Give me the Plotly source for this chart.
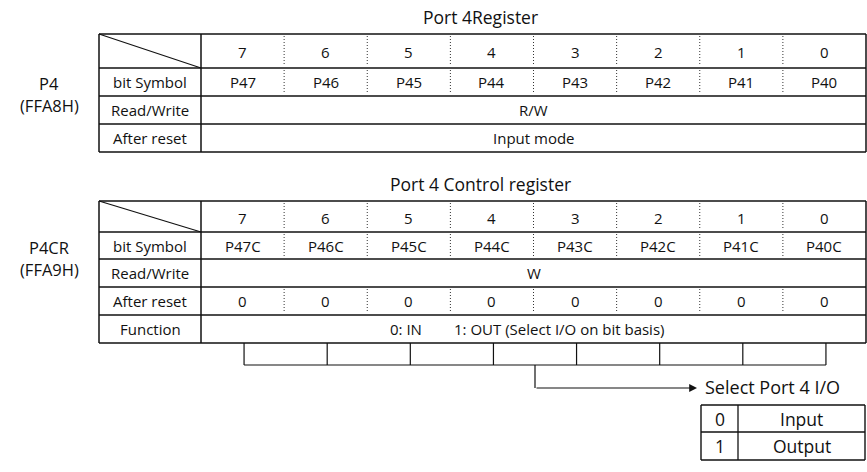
import plotly.graph_objects as go

# ---------------- data ----------------
bits = ["7", "6", "5", "4", "3", "2", "1", "0"]
p4_symbols = ["P47", "P46", "P45", "P44", "P43", "P42", "P41", "P40"]
p4cr_symbols = ["P47C", "P46C", "P45C", "P44C", "P43C", "P42C", "P41C", "P40C"]
p4cr_reset = ["0", "0", "0", "0", "0", "0", "0", "0"]
p4_title = "Port 4Register"
p4cr_title = "Port 4 Control register"
p4_name = ["P4", "(FFA8H)"]
p4cr_name = ["P4CR", "(FFA9H)"]
p4_row_labels = ["bit Symbol", "Read/Write", "After reset"]
p4cr_row_labels = ["bit Symbol", "Read/Write", "After reset", "Function"]
p4_rw = "R/W"
p4_reset = "Input mode"
p4cr_rw = "W"
function_text = ["0: IN", "1: OUT (Select I/O on bit basis)"]
select_title = "Select Port 4 I/O"
select_values = ["0", "1"]
select_meanings = ["Input", "Output"]

# ---------------- geometry ----------------
W, H = 867, 472
X0, XL, XR = 99, 201, 866
NB = len(bits)
CW = (XR - XL) / NB
col_edges = [XL + CW * i for i in range(NB + 1)]
col_centers = [XL + CW * (i + 0.5) for i in range(NB)]

T1 = [34, 68, 96, 124, 152]
T2 = [201, 232, 259, 287, 315, 343]

FONT = "Open Sans"
INK = "#111111"
CELL = 15
shapes = []
ann = []


def line(x0, y0, x1, y1, w=1.3, dash="solid", color=INK):
    shapes.append(dict(type="line", x0=x0, y0=y0, x1=x1, y1=y1, xref="x", yref="y",
                       line=dict(color=color, width=w, dash=dash)))


def text(x, y, s, size=CELL, xanchor="center"):
    ann.append(dict(x=x, y=y, text=s, showarrow=False, xref="x", yref="y",
                    xanchor=xanchor, yanchor="middle", borderpad=0,
                    font=dict(family=FONT, size=size, color=INK)))


def mid(a, b):
    return (a + b) / 2


def table(rows, dotted_rows, title, name, labels):
    line(X0, rows[0], XR, rows[0], 1.5)
    line(X0, rows[-1], XR, rows[-1], 1.5)
    line(X0, rows[0], X0, rows[-1], 1.5)
    line(XR, rows[0], XR, rows[-1], 1.5)
    line(XL, rows[0], XL, rows[-1], 1.5)
    for y in rows[1:-1]:
        line(X0, y, XR, y, 1.3)
    line(X0, rows[0], XL, rows[1], 1.2)
    for r in dotted_rows:
        for x in col_edges[1:-1]:
            line(x, rows[r] + 2, x, rows[r + 1] - 2, 1.0, "1px,2px", "#333333")
    text(mid(XL, XR) - 53, rows[0] - 17, title, 17.5)
    text(49, rows[1] + 15, name[0], 16.5)
    text(49, rows[1] + 37.5, name[1], 16.5)
    for i, b in enumerate(bits):
        text(col_centers[i], mid(rows[0], rows[1]) + 1, b)
    for j, lab in enumerate(labels):
        text(mid(X0, XL), mid(rows[j + 1], rows[j + 2]), lab)


table(T1, [0, 1], p4_title, p4_name, p4_row_labels)
for i, s in enumerate(p4_symbols):
    text(col_centers[i], mid(T1[1], T1[2]), s)
text(mid(XL, XR), mid(T1[2], T1[3]), p4_rw)
text(mid(XL, XR), mid(T1[3], T1[4]), p4_reset)

table(T2, [0, 1, 3], p4cr_title, p4cr_name, p4cr_row_labels)
for i, s in enumerate(p4cr_symbols):
    text(col_centers[i], mid(T2[1], T2[2]), s)
text(mid(XL, XR), mid(T2[2], T2[3]), p4cr_rw)
for i, s in enumerate(p4cr_reset):
    text(col_centers[i], mid(T2[3], T2[4]), s)
text(389, mid(T2[4], T2[5]), function_text[0], CELL, "left")
text(453, mid(T2[4], T2[5]), function_text[1], CELL, "left")

# bracket below the control register
BY = 365
for c in col_centers:
    line(c + 1.5, T2[-1], c + 1.5, BY, 1.2)
line(col_centers[0] + 1.5, BY, col_centers[-1] + 1.5, BY, 1.2)
AX = col_edges[4] + 1.5
AY = 388
line(AX, BY, AX, AY, 1.2)
ann.append(dict(x=697, y=AY, ax=AX, ay=AY, xref="x", yref="y", axref="x", ayref="y",
                showarrow=True, arrowhead=2, arrowsize=1.3, arrowwidth=1.2,
                arrowcolor=INK, text=""))
text(704, AY - 1, select_title, 18, "left")

# select table
BX0, BXD, BX1 = 701, 738, 865
BYS = [405, 432, 460]
line(BX0, BYS[0], BX1, BYS[0], 1.4)
line(BX0, BYS[-1], BX1, BYS[-1], 1.4)
line(BX0, BYS[1], BX1, BYS[1], 1.3)
line(BX0, BYS[0], BX0, BYS[-1], 1.4)
line(BXD, BYS[0], BXD, BYS[-1], 1.3)
line(BX1, BYS[0], BX1, BYS[-1], 1.4)
for k in range(len(select_values)):
    text(mid(BX0, BXD), mid(BYS[k], BYS[k + 1]), select_values[k], 17.5)
    text(mid(BXD, BX1), mid(BYS[k], BYS[k + 1]), select_meanings[k], 17.5)

fig = go.Figure()
fig.add_trace(go.Scatter(x=[0, W], y=[0, H], mode="markers",
                         marker=dict(opacity=0), hoverinfo="skip", showlegend=False))
fig.update_layout(
    width=W, height=H, margin=dict(l=0, r=0, t=0, b=0),
    paper_bgcolor="white", plot_bgcolor="white",
    xaxis=dict(range=[0, W], visible=False, fixedrange=True),
    yaxis=dict(range=[H, 0], visible=False, fixedrange=True),
    shapes=shapes, annotations=ann, showlegend=False,
)
fig.write_html("out.html", config={"displayModeBar": False},
               post_script="document.body.style.margin='0px';document.body.style.overflow='hidden';")
